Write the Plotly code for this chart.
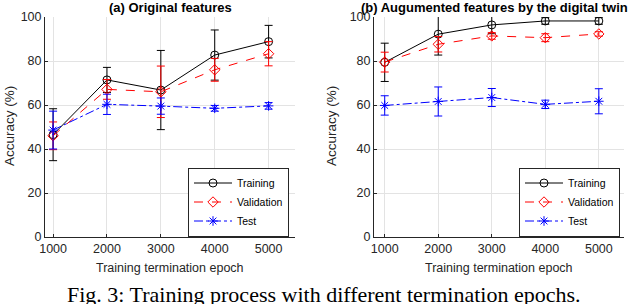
import plotly.graph_objects as go

epochs = [1000, 2000, 3000, 4000, 5000]

# (a) Original features
a_train = [46.5, 71.4, 66.8, 82.7, 88.8]
a_train_err = [11.8, 5.7, 18.0, 11.4, 7.4]
a_val = [46.0, 67.1, 66.0, 76.0, 83.3]
a_val_err = [6.3, 4.5, 11.7, 5.2, 5.5]
a_test = [48.6, 60.3, 59.5, 58.5, 59.6]
a_test_err = [8.6, 4.6, 3.7, 1.3, 1.5]

# (b) Augmented features by the digital twin
b_train = [79.4, 92.2, 96.4, 98.2, 98.2]
b_train_err = [8.7, 9.5, 4.0, 1.5, 1.5]
b_val = [79.5, 87.6, 91.4, 90.6, 92.3]
b_val_err = [4.5, 3.5, 1.5, 1.8, 1.0]
b_test = [59.8, 61.6, 63.4, 60.3, 61.7]
b_test_err = [4.4, 6.6, 4.1, 1.9, 5.7]

names = ["Training", "Validation", "Test"]
xticks = [1000, 2000, 3000, 4000, 5000]
yticks = [0, 20, 40, 60, 80, 100]

colors = ["#000000", "#ff0000", "#0000ff"]
dashes = ["solid", "dash", "dashdot"]
symbols = ["circle-open", "diamond-open", "asterisk-open"]

FONT = "Liberation Sans, Arial, sans-serif"
W, HT = 640, 304


def X(px):
    return px / W


def H(px):
    return 1 - px / HT


fig = go.Figure()

panels = [
    ((a_train, a_train_err), (a_val, a_val_err), (a_test, a_test_err)),
    ((b_train, b_train_err), (b_val, b_val_err), (b_test, b_test_err)),
]

for p, series in enumerate(panels):
    xa = "x" if p == 0 else "x2"
    ya = "y" if p == 0 else "y2"
    leg = "legend" if p == 0 else "legend2"
    for i, (vals, errs) in enumerate(series):
        fig.add_trace(go.Scatter(
            x=epochs, y=vals, xaxis=xa, yaxis=ya, name=names[i], legend=leg,
            mode="lines+markers",
            line=dict(color=colors[i], width=1, dash=dashes[i]),
            marker=dict(symbol=symbols[i], size=8, color=colors[i],
                        line=dict(width=1, color=colors[i])),
            error_y=dict(type="data", array=errs, visible=True,
                         color=colors[i], thickness=1, width=4),
            cliponaxis=True,
        ))

axis_common = dict(
    showgrid=True, gridcolor="#e3e3e3", gridwidth=1,
    showline=True, linecolor="#262626", linewidth=1,
    ticks="inside", ticklen=3, tickcolor="#262626",
    tickfont=dict(family=FONT, size=12.5, color="#262626"),
    zeroline=False, mirror=False, automargin=False,
)

legend_common = dict(
    xanchor="left", yanchor="middle",
    bgcolor="white", bordercolor="#262626", borderwidth=1,
    font=dict(family=FONT, size=10.5, color="#000000"),
    tracegroupgap=0, itemwidth=38,
)

fig.update_layout(
    width=W, height=HT,
    margin=dict(l=0, r=0, t=0, b=0, autoexpand=False),
    plot_bgcolor="white", paper_bgcolor="white",
    font=dict(family=FONT, size=12, color="#262626"),
    xaxis=dict(domain=[X(45), X(295)], range=[850, 5490], tickvals=xticks,
               anchor="y", **axis_common),
    yaxis=dict(domain=[H(237), H(17)], range=[0, 100], tickvals=yticks,
               anchor="x", **axis_common),
    xaxis2=dict(domain=[X(374), X(624)], range=[800, 5470], tickvals=xticks,
                anchor="y2", **axis_common),
    yaxis2=dict(domain=[H(237), H(17)], range=[0, 100], tickvals=yticks,
                anchor="x2", **axis_common),
    legend=dict(x=X(188), y=H(202), **legend_common),
    legend2=dict(x=X(519), y=H(202), **legend_common),
    showlegend=True,
)

annotations = [
    dict(text="<b>(a) Original features</b>", x=X(170), y=H(8), xref="paper", yref="paper",
         showarrow=False, font=dict(family=FONT, size=13, color="#000000"),
         xanchor="center", yanchor="middle"),
    dict(text="<b>(b) Augumented features by the digital twin</b>", x=X(359), y=H(8),
         xref="paper", yref="paper", showarrow=False,
         font=dict(family=FONT, size=13, color="#000000"),
         xanchor="left", yanchor="middle"),
    dict(text="Training termination epoch", x=X(170), y=H(268), xref="paper", yref="paper",
         showarrow=False, font=dict(family=FONT, size=12.5, color="#262626"),
         xanchor="center", yanchor="middle"),
    dict(text="Training termination epoch", x=X(499), y=H(268), xref="paper", yref="paper",
         showarrow=False, font=dict(family=FONT, size=12.5, color="#262626"),
         xanchor="center", yanchor="middle"),
    dict(text="Accuracy (%)", x=X(9), y=H(126), xref="paper", yref="paper",
         showarrow=False, textangle=-90, font=dict(family=FONT, size=13.5, color="#262626"),
         xanchor="center", yanchor="middle"),
    dict(text="Accuracy (%)", x=X(331), y=H(126), xref="paper", yref="paper",
         showarrow=False, textangle=-90, font=dict(family=FONT, size=13.5, color="#262626"),
         xanchor="center", yanchor="middle"),
    dict(text="Fig. 3: Training process with different termination epochs.", x=X(323),
         y=H(280), xref="paper", yref="paper", showarrow=False,
         font=dict(family="Liberation Serif, Times New Roman, serif", size=22, color="#000000"),
         xanchor="center", yanchor="top"),
]
fig.update_layout(annotations=annotations)

fig.write_html("out.html", config={"displayModeBar": False},
               post_script="document.body.style.margin='0px';")
